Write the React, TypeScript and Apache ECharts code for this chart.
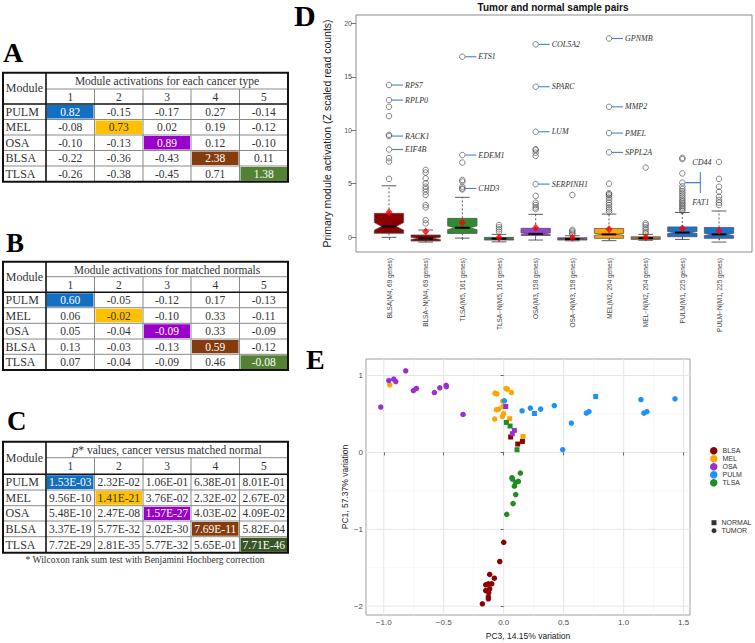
import React, { useEffect, useRef } from 'react';
import * as echarts from 'echarts';

// ---------- Tables A, B, C ----------
const modules = ['PULM', 'MEL', 'OSA', 'BLSA', 'TLSA'];
const moduleNumbers = ['1', '2', '3', '4', '5'];
const cancerActivations = [
  ['0.82', '-0.15', '-0.17', '0.27', '-0.14'],
  ['-0.08', '0.73', '0.02', '0.19', '-0.12'],
  ['-0.10', '-0.13', '0.89', '0.12', '-0.10'],
  ['-0.22', '-0.36', '-0.43', '2.38', '0.11'],
  ['-0.26', '-0.38', '-0.45', '0.71', '1.38'],
];
const normalActivations = [
  ['0.60', '-0.05', '-0.12', '0.17', '-0.13'],
  ['0.06', '-0.02', '-0.10', '0.33', '-0.11'],
  ['0.05', '-0.04', '-0.09', '0.33', '-0.09'],
  ['0.13', '-0.03', '-0.13', '0.59', '-0.12'],
  ['0.07', '-0.04', '-0.09', '0.46', '-0.08'],
];
const pValues = [
  ['1.53E-03', '2.32E-02', '1.06E-01', '6.38E-01', '8.01E-01'],
  ['9.56E-10', '1.41E-21', '3.76E-02', '2.32E-02', '2.67E-02'],
  ['5.48E-10', '2.47E-08', '1.57E-27', '4.03E-02', '4.09E-02'],
  ['3.37E-19', '5.77E-32', '2.02E-30', '7.69E-11', '5.82E-04'],
  ['7.72E-29', '2.81E-35', '5.77E-32', '5.65E-01', '7.71E-46'],
];

// ---------- Panel D: boxplots ----------
const boxNames = [
  'BLSA(M4, 69 genes)', 'BLSA−N(M4, 69 genes)',
  'TLSA(M5, 161 genes)', 'TLSA−N(M5, 161 genes)',
  'OSA(M3, 158 genes)', 'OSA−N(M3, 158 genes)',
  'MEL(M2, 204 genes)', 'MEL−N(M2, 204 genes)',
  'PULM(M1, 225 genes)', 'PULM−N(M1, 225 genes)',
];
const boxGeneCounts = [69, 69, 161, 161, 158, 158, 204, 204, 225, 225];
const boxLow = [-0.03, -0.47, -0.1, -0.45, -0.28, -0.35, -0.34, -0.3, -0.22, -0.47];
const boxQ1 = [0.35, -0.37, 0.34, -0.28, 0.15, -0.28, -0.12, -0.22, 0.03, -0.12];
const boxMedian = [1.0, -0.12, 0.87, -0.15, 0.3, -0.18, 0.25, -0.1, 0.42, 0.25];
const boxQ3 = [2.22, 0.19, 1.75, -0.03, 0.82, -0.06, 0.81, 0.03, 0.95, 0.9];
const boxHigh = [4.8, 0.66, 3.72, 0.25, 2.13, 0.12, 2.15, 0.25, 2.3, 2.44];
const boxMean = [2.33, 0.53, 1.34, -0.05, 0.87, -0.07, 0.72, -0.03, 0.8, 0.56];
const boxOutliers = [
  [5.45, 7.07, 7.4, 8.2, 9.46, 9.58, 11.33, 12.2, 12.83, 14.24],
  [1.28, 1.59, 2.78, 3.0, 3.94, 4.25, 4.5, 4.72, 5.04, 5.5, 6.04, 6.29],
  [4.47, 4.55, 4.72, 5.2, 5.35, 6.98, 7.68, 16.89],
  [0.5, 0.72, 0.91, 1.13],
  [2.62, 2.78, 3.0, 3.22, 3.86, 4.96, 7.6, 7.9, 8.16, 8.22, 9.86, 14.08, 18.05],
  [0.25, 0.4, 0.55, 0.68, 3.94],
  [2.38, 2.6, 2.78, 3.0, 3.22, 3.47, 3.7, 3.9, 4.02, 4.1, 5.0, 7.93, 9.74, 12.2, 18.6],
  [0.35, 0.5, 0.72, 0.91, 1.13, 1.28, 6.51],
  [2.45, 2.6, 2.75, 2.9, 3.05, 3.2, 3.35, 3.5, 3.7, 3.9, 4.1, 4.3, 4.5, 4.75, 5.1, 5.96, 7.3, 7.42],
  [3.0, 3.22, 3.47, 3.78, 4.25, 4.72, 5.45, 7.03],
];
const dYTicks = [0, 5, 10, 15, 20];
const dXTicks = [1, 2, 3, 4, 5, 6, 7, 8, 9, 10];

// gene annotations: box number, value, gene, label kind
const annotBox = [1, 1, 1, 1, 3, 3, 3, 5, 5, 5, 5, 7, 7, 7, 7, 9, 9];
const annotValue = [14.24, 12.83, 9.46, 8.2, 16.89, 7.68, 4.55, 18.05, 14.08, 9.86, 4.96, 18.6, 12.2, 9.74, 7.93, 5.1, 5.1];
const annotGene = ['RPS7', 'RPLP0', 'RACK1', 'EIF4B', 'ETS1', 'EDEM1', 'CHD3', 'COL5A2', 'SPARC', 'LUM', 'SERPINH1', 'GPNMB', 'MMP2', 'PMEL', 'SPPL2A', 'CD44', 'FAT1'];
const annotKind = ['side', 'side', 'side', 'side', 'side', 'side', 'side', 'side', 'side', 'side', 'side', 'side', 'side', 'side', 'side', 'up', 'down'];

// ---------- Panel E: PCA ----------
const eTypes = ['BLSA', 'MEL', 'OSA', 'PULM', 'TLSA'];
const blsaTumor = [[0.0, -1.169], [-0.033, -1.419], [-0.117, -1.588], [-0.078, -1.636], [-0.15, -1.722], [-0.128, -1.71], [-0.1, -1.71], [-0.117, -1.775], [-0.15, -1.797], [-0.125, -1.827], [-0.128, -1.878], [-0.128, -1.904], [-0.178, -1.969]];
const blsaNormal = [[0.058, 0.2], [0.117, 0.109], [0.156, 0.143]];
const melTumor = [[-0.95, 0.879], [-0.072, 0.771], [-0.056, 0.762], [0.019, 0.831], [0.031, 0.823], [0.064, 0.779], [-0.008, 0.668], [-0.006, 0.597], [-0.061, 0.555], [-0.042, 0.563], [0.0, 0.503], [-0.011, 0.468], [-0.075, 0.434]];
const melNormal = [[0.05, 0.438], [0.161, 0.208]];
const osaTumor = [[-1.025, 0.59], [-0.958, 0.935], [-0.917, 0.953], [-0.9, 0.922], [-0.817, 1.061], [-0.753, 0.805], [-0.728, 0.832], [-0.578, 0.779], [-0.533, 0.84], [-0.48, 0.872], [-0.478, 0.855], [-0.339, 0.494]];
const osaNormal = [[0.017, 0.597], [0.089, 0.286], [0.072, 0.243]];
const pulmTumor = [[0.006, 0.671], [0.153, 0.541], [0.222, 0.576], [0.308, 0.563], [0.422, 0.61], [0.564, 0.381], [0.492, 0.035], [0.689, 0.511], [0.711, 0.532], [1.144, 0.688], [1.169, 0.511], [1.194, 0.532], [1.428, 0.697]];
const pulmNormal = [[0.256, 0.506], [0.767, 0.727]];
const tlsaTumor = [[0.069, -0.329], [0.072, -0.346], [0.139, -0.268], [0.1, -0.39], [0.122, -0.377], [0.089, -0.44], [0.1, -0.549], [0.078, -0.666], [0.025, -0.805]];
const tlsaNormal = [[0.022, 0.39], [0.053, 0.343], [0.111, 0.035]];
const eXTicks = [-1, -0.5, 0, 0.5, 1, 1.5];
const eXMinor = [-0.75, -0.25, 0.25, 0.75, 1.25];
const eYTicks = [-2, -1, 0, 1];
const eYMinor = [-1.5, -0.5, 0.5];

// ---------- styles ----------
const SERIF = '"Liberation Serif", "Times New Roman", serif';
const SANS = '"Liberation Sans", Arial, sans-serif';
const tableHighlight = ['#1170C4', '#FFC000', '#9900CC', '#843C0C', '#548235'];
const tableHighlightC = ['#1170C4', '#FFC000', '#9900CC', '#843C0C', '#375623'];
const tableHighlightText = ['#ffffff', '#333333', '#ffffff', '#ffffff', '#ffffff'];
const boxColors = ['#8B0000', '#8B0000', '#2E8B2E', '#2E8B2E', '#9B3FD6', '#9B3FD6', '#FFA500', '#FFA500', '#1C73CC', '#1C73CC'];
const eColors: Record<string, string> = { BLSA: '#8B0000', MEL: '#FFA500', OSA: '#9932CC', PULM: '#1E90FF', TLSA: '#228B22' };

const layoutA = { colX: [3, 46, 94.5, 143, 191, 239.5, 288], rowY: [72.7, 89, 104, 119.5, 135, 150.5, 166, 181.7] };
const layoutB = { colX: [3, 46, 94.5, 143, 191, 239.5, 288], rowY: [261.7, 276.7, 292.3, 307.7, 323.3, 339, 354.3, 370] };
const layoutC = { colX: [3, 46, 94.5, 143, 191, 239.5, 288], rowY: [441.7, 457.7, 474.3, 490, 505.7, 521, 536.7, 552.7] };

function makeTable(layout: { colX: number[]; rowY: number[] }, title: any, values: string[][], hl: string[]) {
  const { colX, rowY } = layout;
  const els: any[] = [];
  // highlighted diagonal cells
  for (let i = 0; i < 5; i++) {
    els.push({
      type: 'rect',
      shape: { x: colX[i + 1] + 1, y: rowY[i + 2] + 1, width: colX[i + 2] - colX[i + 1] - 2, height: rowY[i + 3] - rowY[i + 2] - 2 },
      style: { fill: hl[i] },
    });
  }
  const thin = { stroke: '#8a8a8a', lineWidth: 1 };
  const thick = { stroke: '#111', lineWidth: 1.6 };
  // thin inner lines
  els.push({ type: 'line', shape: { x1: colX[1], y1: rowY[1], x2: colX[6], y2: rowY[1] }, style: thin });
  for (let r = 3; r <= 6; r++) {
    els.push({ type: 'line', shape: { x1: colX[0], y1: rowY[r], x2: colX[6], y2: rowY[r] }, style: thin });
  }
  for (let c = 2; c <= 5; c++) {
    els.push({ type: 'line', shape: { x1: colX[c], y1: rowY[1], x2: colX[c], y2: rowY[7] }, style: thin });
  }
  // thick lines
  els.push({ type: 'line', shape: { x1: colX[1], y1: rowY[0], x2: colX[1], y2: rowY[7] }, style: thick });
  els.push({ type: 'line', shape: { x1: colX[0], y1: rowY[2], x2: colX[6], y2: rowY[2] }, style: thick });
  els.push({ type: 'rect', shape: { x: colX[0], y: rowY[0], width: colX[6] - colX[0], height: rowY[7] - rowY[0] }, style: { fill: 'none', stroke: '#111', lineWidth: 2 } });
  // header
  els.push({ type: 'text', x: (colX[0] + colX[1]) / 2, y: (rowY[0] + rowY[2]) / 2, style: { text: 'Module', fill: '#333', fontSize: 12, fontFamily: SERIF, align: 'center', verticalAlign: 'middle' } });
  els.push({ type: 'text', x: (colX[1] + colX[6]) / 2, y: (rowY[0] + rowY[1]) / 2 + 0.5, style: { ...title, fill: '#333', fontFamily: SERIF, align: 'center', verticalAlign: 'middle' } });
  for (let c = 0; c < 5; c++) {
    els.push({ type: 'text', x: (colX[c + 1] + colX[c + 2]) / 2, y: (rowY[1] + rowY[2]) / 2, style: { text: moduleNumbers[c], fill: '#333', fontSize: 11.5, fontFamily: SERIF, align: 'center', verticalAlign: 'middle' } });
  }
  for (let r = 0; r < 5; r++) {
    const cy = (rowY[r + 2] + rowY[r + 3]) / 2;
    els.push({ type: 'text', x: colX[0] + 2.5, y: cy, style: { text: modules[r], fill: '#333', fontSize: 12, fontFamily: SERIF, align: 'left', verticalAlign: 'middle' } });
    for (let c = 0; c < 5; c++) {
      els.push({
        type: 'text', x: (colX[c + 1] + colX[c + 2]) / 2, y: cy,
        style: { text: values[r][c], fill: r === c ? tableHighlightText[r] : '#333', fontSize: 11.5, fontFamily: SERIF, align: 'center', verticalAlign: 'middle' },
      });
    }
  }
  return els;
}

function panelLetter(text: string, x: number, y: number, size: number) {
  return { type: 'text', x, y, style: { text, fill: '#000', fontSize: size, fontWeight: 'bold', fontFamily: SERIF, align: 'left', verticalAlign: 'middle' } };
}

const minusFmt = (v: number, digits: number) => (v < 0 ? '−' : '') + Math.abs(v).toFixed(digits);

function buildOption() {
  const graphic: any[] = [
    panelLetter('A', 3, 52, 28),
    panelLetter('B', 6, 243, 27),
    panelLetter('C', 7, 421, 27),
    panelLetter('D', 294, 15, 30),
    panelLetter('E', 306, 359, 28),
    ...makeTable(layoutA, { text: 'Module activations for each cancer type', fontSize: 11.5 }, cancerActivations, tableHighlight),
    ...makeTable(layoutB, { text: 'Module activations for matched normals', fontSize: 11.5 }, normalActivations, tableHighlight),
    ...makeTable(layoutC, {
      text: '{i|p}{n|* values, cancer versus matched normal}',
      rich: { i: { fontStyle: 'italic', fontSize: 12, fontFamily: SERIF, fill: '#333' }, n: { fontSize: 11.5, fontFamily: SERIF, fill: '#333' } },
    }, pValues, tableHighlightC),
    { type: 'text', x: 145, y: 560, style: { text: '* Wilcoxon rank sum test with Benjamini Hochberg correction', fill: '#333', fontSize: 9.5, fontFamily: SERIF, align: 'center', verticalAlign: 'middle' } },
    { type: 'text', x: 553, y: 7.5, style: { text: 'Tumor and normal sample pairs', fill: '#111', fontSize: 10, fontWeight: 'bold', fontFamily: SANS, align: 'center', verticalAlign: 'middle' } },
  ];

  const boxData = boxNames.map((_, i) => [
    i + 1, boxLow[i], boxQ1[i], boxMedian[i], boxQ3[i], boxHigh[i],
    1.58 * (boxQ3[i] - boxQ1[i]) / Math.sqrt(boxGeneCounts[i]),
  ]);
  const outlierData: number[][] = [];
  boxOutliers.forEach((arr, i) => arr.forEach((v) => outlierData.push([i + 1, v])));
  const meanData = boxMean.map((m, i) => [i + 1, m]);
  const annotData = annotBox.map((b, i) => [b, annotValue[i]]);

  const gridData: number[][] = [
    ...eXTicks.map((v) => [v, 0, 1]),
    ...eXMinor.map((v) => [v, 0, 0]),
    ...eYTicks.map((v) => [v, 1, 1]),
    ...eYMinor.map((v) => [v, 1, 0]),
  ];

  const dashed = { stroke: '#333', lineWidth: 0.8, lineDash: [2, 2] };
  const solid = { stroke: '#333', lineWidth: 0.8 };

  const eSeries: any[] = [];
  const eGroups: [string, number[][], number[][]][] = [
    ['BLSA', blsaTumor, blsaNormal],
    ['MEL', melTumor, melNormal],
    ['OSA', osaTumor, osaNormal],
    ['PULM', pulmTumor, pulmNormal],
    ['TLSA', tlsaTumor, tlsaNormal],
  ];
  eGroups.forEach(([name, tumor, normal]) => {
    eSeries.push({ type: 'scatter', name, xAxisIndex: 1, yAxisIndex: 1, data: tumor, symbol: 'circle', symbolSize: 5.5, itemStyle: { color: eColors[name], opacity: 1 }, z: 3 });
    eSeries.push({ type: 'scatter', name, xAxisIndex: 1, yAxisIndex: 1, data: normal, symbol: 'rect', symbolSize: 5, itemStyle: { color: eColors[name], opacity: 1 }, z: 3 });
  });

  return {
    animation: false,
    backgroundColor: '#ffffff',
    graphic,
    grid: [
      { left: 356, top: 15, width: 396, height: 237, show: true, borderColor: '#8c8c8c', borderWidth: 1, backgroundColor: 'transparent' },
      { left: 366, top: 359, width: 324, height: 256, show: true, borderColor: '#a0a0a0', borderWidth: 1, backgroundColor: 'transparent' },
    ],
    xAxis: [
      {
        gridIndex: 0, type: 'value', min: 0.1, max: 10.9,
        axisLine: { show: false }, splitLine: { show: false },
        axisTick: { show: true, customValues: dXTicks, length: 3, lineStyle: { color: '#555', width: 0.8 } },
        axisLabel: { customValues: dXTicks, rotate: 90, fontSize: 6.5, color: '#444', margin: 6, fontFamily: SANS, formatter: (v: number) => boxNames[Math.round(v) - 1] },
      },
      {
        gridIndex: 1, type: 'value', min: -1.148, max: 1.553,
        axisLine: { show: false }, splitLine: { show: false },
        axisTick: { show: true, customValues: eXTicks, length: 3, lineStyle: { color: '#444', width: 0.8 } },
        axisLabel: { customValues: eXTicks, fontSize: 8, color: '#4d4d4d', margin: 3, fontFamily: SANS, formatter: (v: number) => minusFmt(v, 1) },
        name: 'PC3, 14.15% variation', nameLocation: 'middle', nameGap: 16,
        nameTextStyle: { fontSize: 8.5, color: '#222', fontFamily: SANS },
      },
    ],
    yAxis: [
      {
        gridIndex: 0, type: 'value', min: -1.4, max: 20.8,
        axisLine: { show: false }, splitLine: { show: false },
        axisTick: { show: true, customValues: dYTicks, length: 5, lineStyle: { color: '#555', width: 0.8 } },
        axisLabel: { customValues: dYTicks, fontSize: 7, color: '#555', margin: 4, fontFamily: SANS },
        name: 'Primary module activation (Z scaled read counts)', nameLocation: 'middle', nameGap: 24,
        nameTextStyle: { fontSize: 10.5, color: '#222', fontFamily: SANS },
      },
      {
        gridIndex: 1, type: 'value', min: -2.115, max: 1.215,
        axisLine: { show: false }, splitLine: { show: false },
        axisTick: { show: true, customValues: eYTicks, length: 3, lineStyle: { color: '#444', width: 0.8 } },
        axisLabel: { customValues: eYTicks, fontSize: 8, color: '#4d4d4d', margin: 3, fontFamily: SANS, formatter: (v: number) => minusFmt(v, 0) },
        name: 'PC1, 57.37% variation', nameLocation: 'middle', nameGap: 17,
        nameTextStyle: { fontSize: 8.5, color: '#222', fontFamily: SANS },
      },
    ],
    legend: [
      {
        data: eTypes.map((n) => ({ name: n, icon: 'circle' })), orient: 'vertical', left: 710, top: 446.7,
        itemWidth: 7.5, itemHeight: 7.5, itemGap: 0, padding: 0, selectedMode: false,
        textStyle: { fontSize: 7, color: '#333', fontFamily: SANS, lineHeight: 8 },
      },
      {
        data: [{ name: 'NORMAL', icon: 'rect' }, { name: 'TUMOR', icon: 'circle' }], orient: 'vertical', left: 711.5, top: 518.7,
        itemWidth: 5, itemHeight: 5, itemGap: 0, padding: 0, selectedMode: false,
        textStyle: { fontSize: 7, color: '#333', fontFamily: SANS, lineHeight: 8 },
      },
    ],
    series: [
      {
        type: 'custom', name: 'boxes', xAxisIndex: 0, yAxisIndex: 0, data: boxData, z: 2,
        renderItem: (params: any, api: any) => {
          const i = params.dataIndex;
          const x = api.value(0);
          const lo = api.value(1), q1 = api.value(2), med = api.value(3), q3 = api.value(4), hi = api.value(5), notch = api.value(6);
          const w = api.size([0.8, 0])[0] / 2;
          const cx = api.coord([x, med])[0];
          const Y = (v: number) => api.coord([x, v])[1];
          const pts = [
            [cx - w, Y(q1)], [cx - w, Y(med - notch)], [cx - w / 2, Y(med)], [cx - w, Y(med + notch)], [cx - w, Y(q3)],
            [cx + w, Y(q3)], [cx + w, Y(med + notch)], [cx + w / 2, Y(med)], [cx + w, Y(med - notch)], [cx + w, Y(q1)],
          ];
          return {
            type: 'group',
            children: [
              { type: 'line', shape: { x1: cx, y1: Y(q3), x2: cx, y2: Y(hi) }, style: dashed },
              { type: 'line', shape: { x1: cx, y1: Y(q1), x2: cx, y2: Y(lo) }, style: dashed },
              { type: 'line', shape: { x1: cx - w / 2, y1: Y(hi), x2: cx + w / 2, y2: Y(hi) }, style: solid },
              { type: 'line', shape: { x1: cx - w / 2, y1: Y(lo), x2: cx + w / 2, y2: Y(lo) }, style: solid },
              { type: 'polygon', shape: { points: pts }, style: { fill: boxColors[i], stroke: '#555', lineWidth: 0.8 } },
              { type: 'line', shape: { x1: cx - w / 2, y1: Y(med), x2: cx + w / 2, y2: Y(med) }, style: { stroke: '#000', lineWidth: 2 } },
            ],
          };
        },
      },
      {
        type: 'scatter', name: 'outliers', xAxisIndex: 0, yAxisIndex: 0, data: outlierData, z: 3,
        symbol: 'circle', symbolSize: 5.5,
        itemStyle: { color: 'rgba(0,0,0,0)', borderColor: '#444', borderWidth: 0.8 },
      },
      {
        type: 'scatter', name: 'means', xAxisIndex: 0, yAxisIndex: 0, data: meanData, z: 4,
        symbol: 'diamond', symbolSize: [7, 8], itemStyle: { color: '#ff0000' },
      },
      {
        type: 'custom', name: 'annotations', xAxisIndex: 0, yAxisIndex: 0, data: annotData, z: 5,
        renderItem: (params: any, api: any) => {
          const i = params.dataIndex;
          const p = api.coord([api.value(0), api.value(1)]);
          const cx = p[0], cy = p[1];
          const lineStyle = { stroke: '#4A7FD8', lineWidth: 1.1 };
          const textStyle = { fill: '#333', fontSize: 8, fontStyle: 'italic', fontFamily: SERIF, verticalAlign: 'middle', align: 'left' };
          const kind = annotKind[i];
          if (kind === 'side') {
            return {
              type: 'group',
              children: [
                { type: 'line', shape: { x1: cx + 3, y1: cy, x2: cx + 14, y2: cy }, style: lineStyle },
                { type: 'text', style: { ...textStyle, text: annotGene[i], x: cx + 16, y: cy } },
              ],
            };
          }
          const dir = kind === 'up' ? -1 : 1;
          return {
            type: 'group',
            children: [
              { type: 'line', shape: { x1: cx + 3, y1: cy, x2: cx + 18, y2: cy }, style: lineStyle },
              { type: 'line', shape: { x1: cx + 18, y1: cy, x2: cx + 18, y2: cy + dir * 10.5 }, style: lineStyle },
              { type: 'text', style: { ...textStyle, text: annotGene[i], x: cx + 10, y: cy + dir * 20 } },
            ],
          };
        },
      },
      {
        type: 'custom', name: 'egrid', xAxisIndex: 1, yAxisIndex: 1, data: gridData, z: 0, silent: true,
        renderItem: (params: any, api: any) => {
          const cs = params.coordSys;
          const v = api.value(0);
          const vertical = api.value(1) === 0;
          const major = api.value(2) === 1;
          const style = { stroke: major ? '#e6e6e6' : '#f2f2f2', lineWidth: major ? 1 : 0.6 };
          if (vertical) {
            const px = api.coord([v, 0])[0];
            return { type: 'line', shape: { x1: px, y1: cs.y, x2: px, y2: cs.y + cs.height }, style };
          }
          const py = api.coord([0, v])[1];
          return { type: 'line', shape: { x1: cs.x, y1: py, x2: cs.x + cs.width, y2: py }, style };
        },
      },
      ...eSeries,
      { type: 'scatter', name: 'NORMAL', xAxisIndex: 1, yAxisIndex: 1, data: [], itemStyle: { color: '#000' } },
      { type: 'scatter', name: 'TUMOR', xAxisIndex: 1, yAxisIndex: 1, data: [], itemStyle: { color: '#000' } },
    ],
  };
}

export default function App() {
  const ref = useRef<HTMLDivElement>(null);
  useEffect(() => {
    if (!ref.current) return;
    const chart = echarts.init(ref.current, undefined, { renderer: 'svg' });
    chart.setOption(buildOption() as any);
    return () => chart.dispose();
  }, []);
  return <div ref={ref} style={{ position: 'absolute', left: 0, top: 0, width: 755, height: 643, background: '#fff' }} />;
}
